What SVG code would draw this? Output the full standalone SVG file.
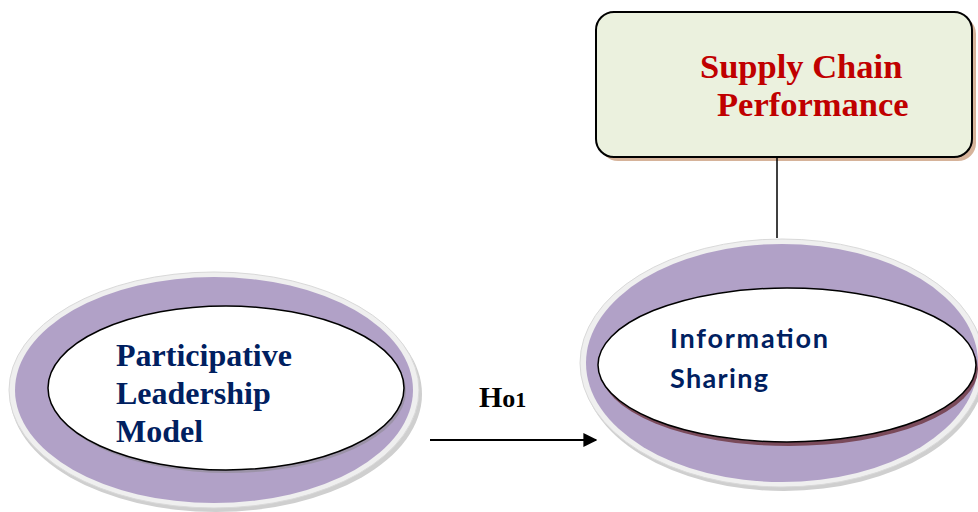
<svg xmlns="http://www.w3.org/2000/svg" width="978" height="512" viewBox="0 0 978 512">
<defs>
<marker id="arr" viewBox="0 0 10 10" refX="9" refY="5" markerWidth="14" markerHeight="14" markerUnits="userSpaceOnUse" orient="auto">
<path d="M0,0 L10,5 L0,10 z" fill="#000"/>
</marker>
</defs>
<style>
.halo{fill:#efefef;stroke:#d9d9d9;stroke-width:1}
.ring{fill:#b1a1c7}
.inner{fill:#fff;stroke:#000;stroke-width:1.5}
.serif{font-family:"Liberation Serif","Times New Roman",serif;font-weight:bold}
.sans{font-family:Lato,"Open Sans","Liberation Sans",sans-serif;font-weight:bold}
</style>
<rect width="978" height="512" fill="#fff"/>
<g id="node-participative">
<ellipse cx="216" cy="394" rx="206" ry="118" fill="#cfcfcf"/>
<ellipse class="halo" cx="214" cy="390" rx="205" ry="118"/>
<ellipse class="ring" cx="214" cy="390" rx="199" ry="113"/>
<ellipse cx="228" cy="391" rx="178" ry="82" fill="#9c93a8"/>
<ellipse class="inner" cx="226" cy="388" rx="178" ry="82" stroke-width="1"/>
<text class="serif" fill="#002060" font-size="32"><tspan x="116" y="366">Participative</tspan><tspan x="116" y="404">Leadership</tspan><tspan x="116" y="442">Model</tspan></text>
</g>
<g id="node-info">
<ellipse cx="784" cy="367" rx="202" ry="124" fill="#cfcfcf"/>
<ellipse class="halo" cx="782" cy="363" rx="202" ry="124"/>
<ellipse class="ring" cx="782" cy="363" rx="196" ry="119"/>
<ellipse cx="789" cy="369" rx="189" ry="77" fill="#7a4a5a"/>
<ellipse class="inner" cx="787" cy="365" rx="189" ry="77" stroke-width="2"/>
<text class="sans" fill="#002060" font-size="27"><tspan x="670" y="348" textLength="158" lengthAdjust="spacing">Information</tspan><tspan x="670" y="388" textLength="98" lengthAdjust="spacing">Sharing</tspan></text>
</g>
<g id="node-scp">
<rect x="600" y="16" width="376" height="145" rx="18" fill="#d6b39a"/>
<rect x="596" y="12" width="376" height="145" rx="18" fill="#ebf1de" stroke="#000" stroke-width="2"/>
<text class="serif" fill="#c00000" font-size="34.5"><tspan x="700" y="78">Supply Chain</tspan><tspan x="717" y="116">Performance</tspan></text>
</g>
<g id="connectors">
<line x1="777" y1="157" x2="777" y2="238" stroke="#000" stroke-width="1.5"/>
<line x1="430" y1="440" x2="596" y2="440" stroke="#000" stroke-width="2" marker-end="url(#arr)"/>
<text class="serif" fill="#000" font-size="30" x="479" y="407">H<tspan font-size="26">o</tspan><tspan font-size="22">1</tspan></text>
</g>
</svg>
